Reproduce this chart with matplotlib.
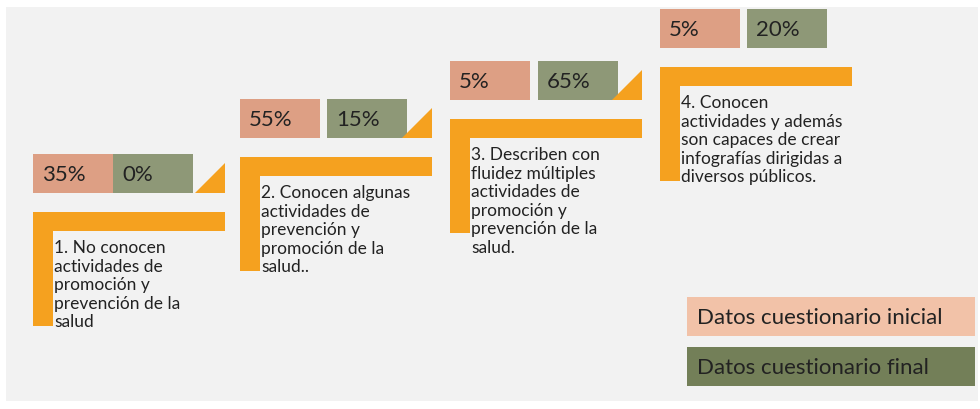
import matplotlib

matplotlib.use("Agg")
import matplotlib.pyplot as plt
from matplotlib.patches import Polygon, Rectangle

# data
inicial = [35, 55, 5, 5]
final = [0, 15, 65, 20]
descripciones = [
    "1. No conocen\nactividades de\npromoción y\nprevención de la\nsalud",
    "2. Conocen algunas\nactividades de\nprevención y\npromoción de la\nsalud..",
    "3. Describen con\nfluidez múltiples\nactividades de\npromoción y\nprevención de la\nsalud.",
    "4. Conocen\nactividades y además\nson capaces de crear\ninfografías dirigidas a\ndiversos públicos.",
]
leyenda = ["Datos cuestionario inicial", "Datos cuestionario final"]

# layout (pixels, origin top-left)
step_x = [33, 240, 450, 660]
step_y = [155, 100, 62, 10]
box_gap = [0, 7, 8, 7]
BOX_W, BOX_H = 80, 39
L_W, L_T, L_H = 192, 19, 114

C_INI = "#dd9f84"
C_FIN = "#8e9877"
C_ORANGE = "#f5a11f"
C_LEG_INI = "#f2c2a8"
C_LEG_FIN = "#737f58"
C_TEXT = "#222222"
FONT = "Lato"

fig = plt.figure(figsize=(9.8, 4.1), dpi=100)
fig.patch.set_facecolor("white")
ax = fig.add_axes([0, 0, 1, 1])
ax.set_xlim(0, 980)
ax.set_ylim(410, 0)
ax.axis("off")

# light grey panel behind the infographic
ax.add_patch(Rectangle((6, 8), 972, 394, color="#f2f2f2", lw=0))

for i, (vi, vf, desc) in enumerate(zip(inicial, final, descripciones)):
    x0, y0 = step_x[i], step_y[i]
    xg = x0 + BOX_W + box_gap[i]
    ax.add_patch(Rectangle((x0, y0), BOX_W, BOX_H, color=C_INI, lw=0))
    ax.add_patch(Rectangle((xg, y0), BOX_W, BOX_H, color=C_FIN, lw=0))
    ax.text(x0 + 9, y0 + BOX_H / 2 + 1, f"{vi}%", fontsize=16, family=FONT,
            color=C_TEXT, va="center", ha="left")
    ax.text(xg + 9, y0 + BOX_H / 2 + 1, f"{vf}%", fontsize=16, family=FONT,
            color=C_TEXT, va="center", ha="left")

    xr = x0 + L_W
    if i < len(inicial) - 1:
        yb = y0 + BOX_H
        ax.add_patch(Polygon([(xr - 30, yb), (xr, yb), (xr, y0 + 9)],
                             closed=True, color=C_ORANGE, lw=0))

    ly = y0 + BOX_H + 19
    ax.add_patch(Rectangle((x0, ly), L_W, L_T, color=C_ORANGE, lw=0))
    ax.add_patch(Rectangle((x0, ly), 20, L_H, color=C_ORANGE, lw=0))
    ax.text(x0 + 21, ly + 27, desc, fontsize=12.5, family=FONT, color=C_TEXT,
            va="top", ha="left", linespacing=1.2)

# legend boxes
for j, (lab, col) in enumerate(zip(leyenda, [C_LEG_INI, C_LEG_FIN])):
    y = 298 + j * 50
    ax.add_patch(Rectangle((687, y), 288, 39, color=col, lw=0))
    ax.text(697, y + 20, lab, fontsize=16, family=FONT, color=C_TEXT,
            va="center", ha="left")

fig.savefig("out.png", dpi=100, facecolor=fig.get_facecolor())
plt.close(fig)
